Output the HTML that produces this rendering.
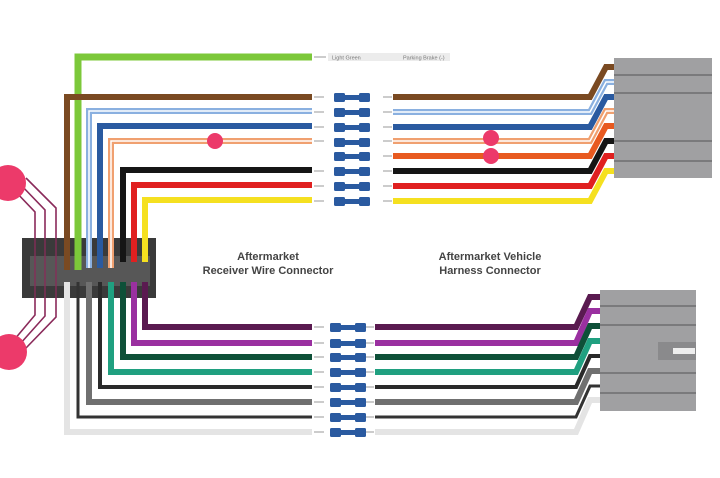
<!DOCTYPE html>
<html><head><meta charset="utf-8"><style>
html,body{margin:0;padding:0;background:#fff;width:720px;height:478px;overflow:hidden}
svg{display:block}
text{font-family:"Liberation Sans",sans-serif}
</style></head><body>
<svg width="720" height="478" viewBox="0 0 720 478" xmlns="http://www.w3.org/2000/svg">
<g fill="none" stroke-linejoin="miter">
<!-- magenta lines -->
<g stroke="#8a2a5a" stroke-width="1.6">
<path d="M14,190 L35,212 L35,315 L14,340"/>
<path d="M20,184 L45,210 L45,316 L20,344"/>
<path d="M26,178 L56,208 L56,317 L26,348"/>
</g>
</g>
<circle cx="8" cy="183" r="18" fill="#ec3a6a"/>
<circle cx="9" cy="352" r="18" fill="#ec3a6a"/>
<!-- receiver connector -->
<rect x="22" y="238" width="134" height="60" fill="#3a3a3a"/>
<rect x="30" y="256" width="120" height="30" fill="#6a6a6a" opacity="0.6"/>
<g stroke="#8a2a5a" stroke-width="1.6" opacity="0.8"><path d="M35,238V298M45,238V298M56,238V298"/></g>
<g fill="none" stroke-linejoin="miter">
<!-- top left wires -->
<path d="M78,270 V57 H312" stroke="#7cc83a" stroke-width="7"/>
<path d="M67,270 V97 H312" stroke="#7a4a22" stroke-width="6"/>
<path d="M89,268 V111 H312" stroke="#8ab0e0" stroke-width="6"/><path d="M89,268 V111 H312" stroke="#fff" stroke-width="1.5"/>
<path d="M100,268 V126 H312" stroke="#2a5aa0" stroke-width="6"/>
<path d="M111,268 V141 H312" stroke="#f0a070" stroke-width="6"/><path d="M111,268 V141 H312" stroke="#fff" stroke-width="1.5"/>
<path d="M123,262 V170 H312" stroke="#151515" stroke-width="6"/>
<path d="M134,262 V185 H312" stroke="#e02020" stroke-width="6"/>
<path d="M145,262 V200 H312" stroke="#f5e020" stroke-width="6"/>
<!-- bottom left wires -->
<path d="M145,282 V327 H312" stroke="#5a1a50" stroke-width="6"/>
<path d="M134,282 V343 H312" stroke="#9a30a0" stroke-width="6"/>
<path d="M123,282 V357 H312" stroke="#0e5038" stroke-width="6"/>
<path d="M111,282 V372 H312" stroke="#20a080" stroke-width="6"/>
<path d="M100,282 V387 H312" stroke="#2a2a2a" stroke-width="4"/>
<path d="M89,282 V402 H312" stroke="#707070" stroke-width="6"/>
<path d="M78,282 V417 H312" stroke="#333" stroke-width="3"/>
<path d="M67,282 V432 H312" stroke="#e4e4e4" stroke-width="6"/>
<!-- right top wires -->
<path d="M393,97 H590 L606,67 H614" stroke="#7a4a22" stroke-width="6"/>
<path d="M393,112 H590 L606,82 H614" stroke="#8ab0e0" stroke-width="6"/><path d="M393,112 H590 L606,82 H614" stroke="#fff" stroke-width="1.5"/>
<path d="M393,127 H590 L606,97 H614" stroke="#2a5aa0" stroke-width="6"/>
<path d="M393,141 H590 L606,111 H614" stroke="#f0a070" stroke-width="6"/><path d="M393,141 H590 L606,111 H614" stroke="#fff" stroke-width="1.5"/>
<path d="M393,156 H590 L606,126 H614" stroke="#e85a20" stroke-width="6"/>
<path d="M393,171 H590 L606,141 H614" stroke="#151515" stroke-width="6"/>
<path d="M393,186 H590 L606,156 H614" stroke="#e02020" stroke-width="6"/>
<path d="M393,201 H590 L606,171 H614" stroke="#f5e020" stroke-width="6"/>
<!-- right bottom wires -->
<path d="M375,327 H576 L590,297 H600" stroke="#5a1a50" stroke-width="6"/>
<path d="M375,343 H576 L590,311 H600" stroke="#9a30a0" stroke-width="6"/>
<path d="M375,357 H576 L590,326 H600" stroke="#0e5038" stroke-width="6"/>
<path d="M375,372 H576 L590,341 H600" stroke="#20a080" stroke-width="6"/>
<path d="M375,387 H576 L590,356 H600" stroke="#2a2a2a" stroke-width="4"/>
<path d="M375,402 H576 L590,371 H600" stroke="#707070" stroke-width="6"/>
<path d="M375,417 H576 L590,386 H600" stroke="#333" stroke-width="3"/>
<path d="M375,432 H576 L590,400 H600" stroke="#e4e4e4" stroke-width="6"/>
<!-- stubs -->
<g stroke="#bbb" stroke-width="1.5">
<path d="M314,57H326M314,97H324M314,112H324M314,127H324M314,141H324M314,171H324M314,186H324M314,201H324"/>
<path d="M383,97H392M383,112H392M383,127H392M383,141H392M383,156H392M383,171H392M383,186H392M383,201H392"/>
<path d="M314,327H324M314,343H324M314,357H324M314,372H324M314,387H324M314,402H324M314,417H324M314,432H324"/>
<path d="M364,327H374M364,343H374M364,357H374M364,372H374M364,387H374M364,402H374M364,417H374M364,432H374"/>
</g>
</g>
<!-- butt connectors -->
<g fill="#2a5aa0">
<g id="bc"><rect x="334" y="93" width="11" height="9" rx="1.5"/><rect x="344" y="95" width="16" height="5"/><rect x="359" y="93" width="11" height="9" rx="1.5"/></g>
<use href="#bc" y="15"/><use href="#bc" y="30"/><use href="#bc" y="45"/><use href="#bc" y="59"/><use href="#bc" y="74"/><use href="#bc" y="89"/><use href="#bc" y="104"/>
<g transform="translate(-4,0)">
<use href="#bc" y="230"/><use href="#bc" y="246"/><use href="#bc" y="260"/><use href="#bc" y="275"/><use href="#bc" y="290"/><use href="#bc" y="305"/><use href="#bc" y="320"/><use href="#bc" y="335"/>
</g>
</g>
<!-- top label -->
<rect x="328" y="53" width="122" height="8" fill="#ececec"/>
<text x="332" y="59.5" font-size="5.5" fill="#777">Light Green</text>
<text x="403" y="59.5" font-size="5.5" fill="#777">Parking Brake (-)</text>
<!-- pink tags -->
<circle cx="215" cy="141" r="8" fill="#ec3a6a"/>
<circle cx="491" cy="138" r="8" fill="#ec3a6a"/>
<circle cx="491" cy="156" r="8" fill="#ec3a6a"/>
<!-- vehicle connectors -->
<rect x="614" y="58" width="98" height="120" fill="#a0a0a2"/>
<g stroke="#7a7a7c" stroke-width="2"><path d="M614,75H712M614,93H712M614,141H712M614,161H712"/></g>
<rect x="600" y="290" width="96" height="121" fill="#a0a0a2"/>
<g stroke="#7a7a7c" stroke-width="2"><path d="M600,306H696M600,325H696M600,373H696M600,393H696"/></g>
<rect x="658" y="342" width="38" height="18" fill="#8a8a8c"/>
<rect x="673" y="348" width="22" height="6" fill="#eee"/>
<!-- labels -->
<g font-size="11" font-weight="bold" fill="#444" text-anchor="middle">
<text x="268" y="260">Aftermarket</text>
<text x="268" y="274">Receiver Wire Connector</text>
<text x="490" y="260">Aftermarket Vehicle</text>
<text x="490" y="274">Harness Connector</text>
</g>
</svg>
</body></html>
